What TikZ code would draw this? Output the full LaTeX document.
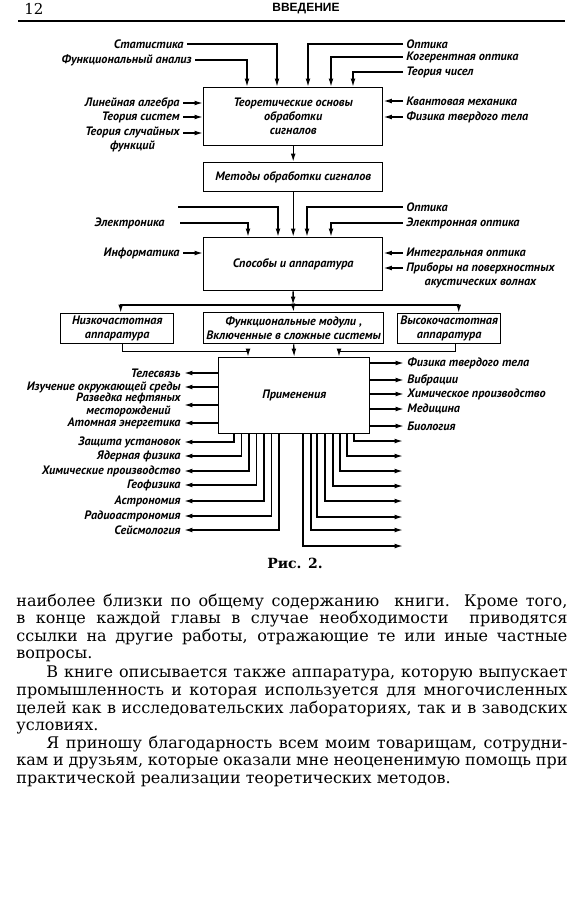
\documentclass[tikz,border=0pt]{standalone}
\usepackage{fontspec}
\setmainfont{DejaVu Serif}
\newfontfamily\lblfont{PT Sans}
\newfontfamily\hdrfont{Liberation Sans}
\usetikzlibrary{arrows.meta,calc}
\begin{document}
\begin{tikzpicture}[x=0.5pt,y=-0.5pt,
  lw/.style={line width=0.7pt},
  arr/.style={lw,-{Latex[length=4.2pt,width=2.4pt]}},
  box/.style={draw,lw,anchor=north west,inner sep=0.8pt,align=center,
    font=\lblfont\bfseries\itshape\fontsize{6.1}{7}\selectfont},
  lab/.style={inner sep=1.5pt,align=center,
    font=\lblfont\bfseries\itshape\fontsize{6.1}{7}\selectfont},
  body/.style={anchor=west,inner sep=0pt,text height=6pt,text depth=1.8pt,
    font=\fontsize{8}{9}\selectfont},
]
\useasboundingbox (0,0) rectangle (584,900);
% header
\node[anchor=west,inner sep=0pt,font=\fontsize{7.5}{8}\selectfont] (pg) at (24,9) {12};
\node[inner sep=0pt,font=\hdrfont\bfseries\fontsize{6}{7}\selectfont] (hd) at (306,9) {ВВЕДЕНИЕ};
\coordinate (r0) at (18,21); \coordinate (r1) at (565,21);
\draw[line width=0.55pt] (r0) -- (r1);

% boxes
\node[box,minimum width=89.5pt,minimum height=29pt] (T) at (203,87) {Теоретические основы\\обработки\\сигналов};
\node[box,minimum width=89.5pt,minimum height=14.5pt] (M) at (203,162) {Методы обработки сигналов};
\node[box,minimum width=89.5pt,minimum height=26.5pt] (S) at (203,237) {Способы и аппаратура};
\node[box,minimum width=56.5pt,minimum height=15pt] (L) at (60,313) {Низкочастотная\\аппаратура};
\node[box,minimum width=90pt,minimum height=15.5pt] (F) at (203,312) {Функциональные модули ,\\Включенные в сложные системы};
\node[box,minimum width=51.5pt,minimum height=15pt] (H) at (397,313) {Высокочастотная\\аппаратура};
\node[box,minimum width=75.5pt,minimum height=38pt] (P) at (218,357) {Применения};

% main chain
\draw[arr] (T.south) -- (M.north);
\draw[arr] (M.south) -- (S.north);
\coordinate (jn) at (293,305);
\draw[arr] (S.south) -- (jn);
\draw[arr] (jn) -- (F.north);
\draw[arr] (jn) -| ($(L.north)+(3.5,0)$);
\draw[arr] (jn) -| ($(H.north)+(9.5,0)$);
\draw[arr] ($(L.south)+(5.5,0)$) -- ++(0,7) -| ($(P.north west)+(30,0)$);
\draw[arr] (F.south) -- (P.north);
\draw[arr] ($(H.south)+(6.5,0)$) -- ++(0,7) -| ($(P.north west)+(121,0)$);

% inputs to T
\node[lab,anchor=east] (stat) at (187,44) {Статистика};
\node[lab,anchor=east] (fan) at (195,60) {Функциональный анализ};
\draw[arr] (stat.east) -| ($(T.north west)+(74,0)$);
\draw[arr] (fan.east) -| ($(T.north west)+(44,0)$);
\node[lab,anchor=west] (opt1) at (403,44) {Оптика};
\node[lab,anchor=west] (kog) at (403,57) {Когерентная оптика};
\node[lab,anchor=west] (tch) at (403,72) {Теория чисел};
\draw[arr] (opt1.west) -| ($(T.north west)+(105,0)$);
\draw[arr] (kog.west) -| ($(T.north west)+(128,0)$);
\draw[arr] (tch.west) -| ($(T.north west)+(150,0)$);
\node[lab,anchor=east] (lin) at (183,103) {Линейная алгебра};
\node[lab,anchor=east] (tsys) at (183,117) {Теория систем};
\coordinate (tslA) at (183,133);
\node[lab,anchor=north east] (tsl) at (183,124) {Теория случайных\\функций};
\draw[arr] (lin.east) -- (lin.east -| T.west);
\draw[arr] (tsys.east) -- (tsys.east -| T.west);
\draw[arr] (tslA) -- (tslA -| T.west);
\node[lab,anchor=west] (qm) at (403,101) {Квантовая механика};
\node[lab,anchor=west] (ftt1) at (403,117) {Физика твердого тела};
\draw[arr] (qm.west) -- (qm.west -| T.east);
\draw[arr] (ftt1.west) -- (ftt1.west -| T.east);

% inputs to S
\coordinate (blank) at (178,207);
\draw[arr] (blank) -| ($(S.north west)+(75,0)$);
\node[lab,anchor=east] (el) at (168,223) {Электроника};
\draw[arr] ([xshift=6pt]el.east) -| ($(S.north west)+(45,0)$);
\node[lab,anchor=west] (opt2) at (403,207) {Оптика};
\node[lab,anchor=west] (eo) at (403,223) {Электронная оптика};
\draw[arr] (opt2.west) -| ($(S.north west)+(104,0)$);
\draw[arr] (eo.west) -| ($(S.north west)+(128,0)$);
\node[lab,anchor=east] (inf) at (183,253) {Информатика};
\draw[arr] (inf.east) -- (inf.east -| S.west);
\node[lab,anchor=west] (io) at (403,253) {Интегральная оптика};
\draw[arr] (io.west) -- (io.west -| S.east);
\coordinate (paA) at (403,268);
\node[lab,anchor=north west] (pav) at (403,259) {Приборы на поверхностных\\акустических волнах};
\draw[arr] (paA) -- (paA -| S.east);

% outputs left of P
\node[lab,anchor=east] (tel) at (184,373) {Телесвязь};
\node[lab,anchor=east] (izu) at (184,387) {Изучение окружающей среды};
\node[lab,anchor=east,font=\lblfont\bfseries\itshape\fontsize{6}{5.5}\selectfont] (raz) at (184,405) {Разведка нефтяных\\месторождений};
\node[lab,anchor=east] (atom) at (184,423) {Атомная энергетика};
\foreach \n in {tel,izu,raz,atom} \draw[arr] (P.west |- \n.east) -- (\n.east);

% outputs right of P
\node[lab,anchor=west] (ftt2) at (404,363) {Физика твердого тела};
\node[lab,anchor=west] (vib) at (404,380) {Вибрации};
\node[lab,anchor=west] (him) at (404,394) {Химическое производство};
\node[lab,anchor=west] (med) at (404,409) {Медицина};
\node[lab,anchor=west] (bio) at (404,426) {Биология};
\foreach \n in {ftt2,vib,him,med,bio} \draw[arr] (P.east |- \n.west) -- (\n.west);

% outputs below P, left
\node[lab,anchor=east] (zu) at (184,442) {Защита установок};
\node[lab,anchor=east] (yf) at (184,456) {Ядерная физика};
\node[lab,anchor=east] (hp) at (184,471) {Химические производство};
\node[lab,anchor=east] (gf) at (184,485) {Геофизика};
\node[lab,anchor=east] (ast) at (184,501) {Астрономия};
\node[lab,anchor=east] (rad) at (184,516) {Радиоастрономия};
\node[lab,anchor=east] (sei) at (184,530) {Сейсмология};
\foreach \n/\dx in {zu/16,yf/23.5,hp/31,gf/38.5,ast/46,rad/53.5,sei/61}
  \draw[arr] ($(P.south west)+(\dx,0)$) |- (\n.east);

% outputs below P, right (unlabelled)
\foreach \i/\dx/\yy in {1/136/441,2/129/456,3/122/471,4/115/486,5/107/501,6/99/517,7/93/530,8/85/546}{
  \coordinate (q\i) at (403,\yy);
  \draw[arr] ($(P.south west)+(\dx,0)$) |- (q\i);
}

% caption
\node[inner sep=0pt,font=\bfseries\fontsize{7}{8}\selectfont] (cap) at (295,563) {Рис. 2.};

% body text
\node[body] (b1) at (16,602) {\makebox[275.5pt][s]{наиболее близки по общему содержанию \ книги. Кроме того,}};
\node[body] (b2) at (16,619.5) {\makebox[275.5pt][s]{в конце каждой главы в случае необходимости \ приводятся}};
\node[body] (b3) at (16,637) {\makebox[275.5pt][s]{ссылки на другие работы, отражающие те или иные частные}};
\node[body] (b4) at (16,654.5) {вопросы.};
\node[body] (b5) at (46,673) {\makebox[260.5pt][s]{В книге описывается также аппаратура, которую выпускает}};
\node[body] (b6) at (16,691) {\makebox[275.5pt][s]{промышленность и которая используется для многочисленных}};
\node[body] (b7) at (16,709) {\makebox[275.5pt][s]{целей как в исследовательских лабораториях, так и в заводских}};
\node[body] (b8) at (16,726.5) {условиях.};
\node[body] (b9) at (46,744) {\makebox[260.5pt][s]{Я приношу благодарность всем моим товарищам, сотрудни-}};
\node[body] (b10) at (16,761.5) {\makebox[275.5pt][s]{кам и друзьям, которые оказали мне неоцененимую помощь при}};
\node[body] (b11) at (16,779) {практической реализации теоретических методов.};
\end{tikzpicture}
\end{document}
